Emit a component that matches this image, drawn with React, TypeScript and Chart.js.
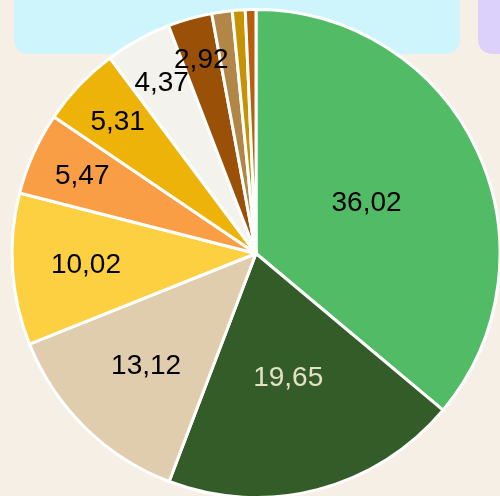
import React, { useEffect, useRef } from "react";
import { Chart, registerables } from "chart.js";

Chart.register(...registerables);

const categories = ["A", "B", "C", "D", "E", "F", "G", "H", "I", "J", "K"];
const values = [36.02, 19.65, 13.12, 10.02, 5.47, 5.31, 4.37, 2.92, 1.35, 0.85, 0.7];
const colors = [
  "#52bb66",
  "#345c28",
  "#e0cdae",
  "#fdd042",
  "#fa9e46",
  "#edb308",
  "#f3f2ec",
  "#9a5006",
  "#b28647",
  "#c69304",
  "#b85e0c",
];
const labelColors = ["#000", "#e4e2c6", "#000", "#000", "#000", "#000", "#000", "#000", "#000", "#000", "#000"];

const BG = "#f5efe6";

function roundRect(ctx: CanvasRenderingContext2D, x: number, y: number, w: number, h: number, r: number) {
  ctx.beginPath();
  ctx.moveTo(x + r, y);
  ctx.lineTo(x + w - r, y);
  ctx.quadraticCurveTo(x + w, y, x + w, y + r);
  ctx.lineTo(x + w, y + h - r);
  ctx.quadraticCurveTo(x + w, y + h, x + w - r, y + h);
  ctx.lineTo(x + r, y + h);
  ctx.quadraticCurveTo(x, y + h, x, y + h - r);
  ctx.lineTo(x, y + r);
  ctx.quadraticCurveTo(x, y, x + r, y);
  ctx.closePath();
}

const backgroundPlugin = {
  id: "bgBoxes",
  beforeDraw(chart: any) {
    const ctx = chart.ctx as CanvasRenderingContext2D;
    ctx.save();
    ctx.fillStyle = BG;
    ctx.fillRect(0, 0, chart.width, chart.height);
    ctx.fillStyle = "#cdf5fb";
    roundRect(ctx, 14, -30, 446, 84, 16);
    ctx.fill();
    ctx.fillStyle = "#dcd1fb";
    roundRect(ctx, 478, -30, 60, 84, 16);
    ctx.fill();
    ctx.restore();
  },
};

const labelPlugin = {
  id: "sliceLabels",
  afterDatasetsDraw(chart: any) {
    const ctx = chart.ctx as CanvasRenderingContext2D;
    const meta = chart.getDatasetMeta(0);
    const data = chart.data.datasets[0].data as number[];
    const total = data.reduce((a, b) => a + b, 0);
    ctx.save();
    ctx.font = "28px 'Liberation Sans', Arial, sans-serif";
    ctx.textAlign = "center";
    ctx.textBaseline = "middle";
    meta.data.forEach((arc: any, i: number) => {
      const pct = (data[i] / total) * 100;
      if (pct < 1.5) return;
      const { x, y, startAngle, endAngle, outerRadius } = arc.getProps(
        ["x", "y", "startAngle", "endAngle", "outerRadius"],
        true
      );
      const mid = (startAngle + endAngle) / 2;
      const f = pct >= 21 ? 0.5 : 0.5 + 0.38 * (1 - pct / 21);
      const r = outerRadius * f;
      ctx.fillStyle = labelColors[i];
      ctx.fillText(data[i].toFixed(2).replace(".", ","), x + Math.cos(mid) * r, y + Math.sin(mid) * r + 1);
    });
    ctx.restore();
  },
};

export default function App() {
  const ref = useRef<HTMLCanvasElement>(null);
  useEffect(() => {
    document.body.style.margin = "0";
    document.body.style.background = BG;
    const chart = new Chart(ref.current!, {
      type: "pie",
      data: {
        labels: categories,
        datasets: [
          {
            data: values,
            backgroundColor: colors,
            borderColor: "#ffffff",
            borderWidth: 3,
            radius: 244,
            clip: false,
          } as any,
        ],
      },
      options: {
        responsive: false,
        animation: false,
        layout: { padding: { left: 12, top: 11 } },
        plugins: {
          legend: { display: false },
          tooltip: { enabled: false },
          title: { display: false },
        },
      },
      plugins: [backgroundPlugin, labelPlugin],
    });
    return () => chart.destroy();
  }, []);
  return (
    <div style={{ width: 500, height: 496, background: BG }}>
      <canvas ref={ref} width={500} height={496} style={{ display: "block" }} />
    </div>
  );
}
